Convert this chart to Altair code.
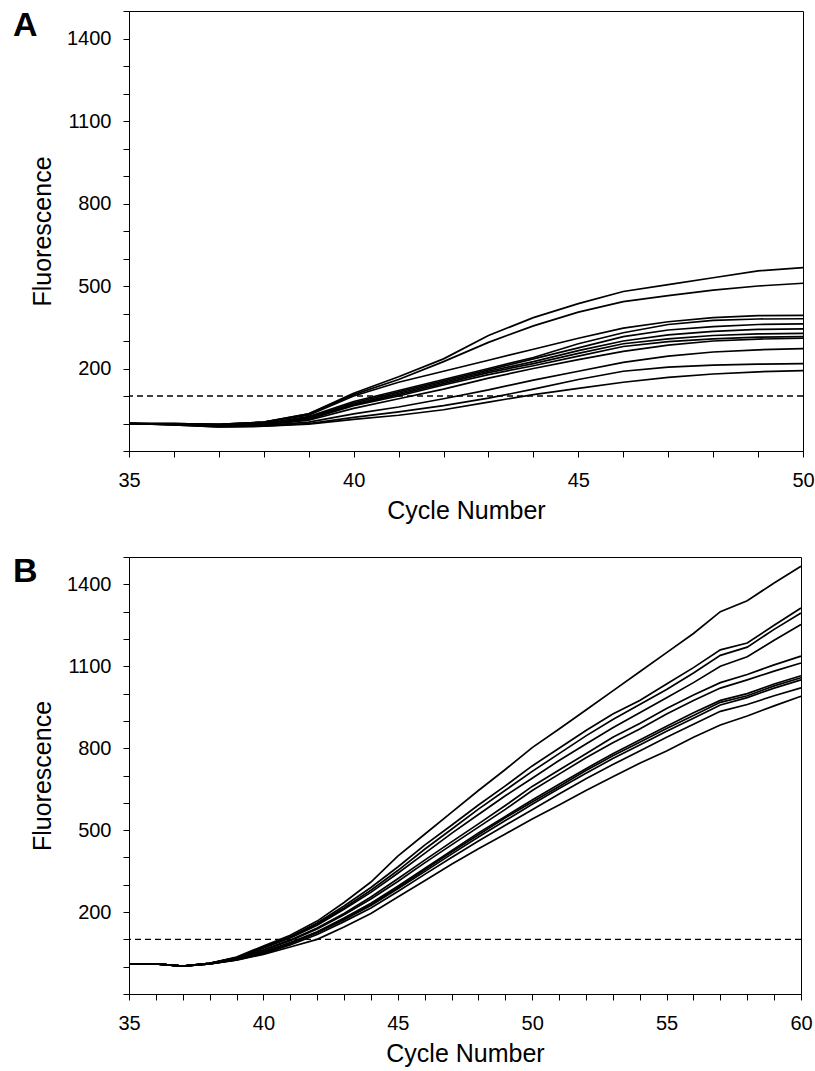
import altair as alt
import pandas as pd

# ---------------- data ----------------
cycles_a = list(range(35, 51))
cycles_b = list(range(35, 61))

a_curves = {
    "A1": [0, 0, -3, 5, 35, 110, 170, 235, 320, 385, 436, 480, 505, 530, 555, 567],
    "A2": [0, 0, -3, 5, 35, 105, 160, 225, 295, 355, 405, 443, 465, 485, 500, 510],
    "A3": [0, 0, -3, 5, 30, 100, 150, 190, 230, 270, 310, 347, 370, 385, 392, 393],
    "A4": [0, -2, -6, 0, 25, 80, 120, 160, 200, 240, 290, 330, 360, 375, 380, 381],
    "A5": [0, -2, -6, 0, 22, 75, 115, 155, 195, 235, 275, 316, 340, 352, 360, 362],
    "A6": [0, -2, -8, -3, 20, 70, 110, 150, 190, 225, 265, 300, 322, 335, 342, 344],
    "A7": [0, -2, -8, -3, 18, 68, 105, 145, 185, 218, 255, 290, 308, 320, 326, 328],
    "A8": [0, -3, -10, -5, 15, 65, 100, 140, 178, 210, 245, 280, 298, 308, 314, 316],
    "A9": [0, -3, -10, -5, 12, 55, 90, 125, 165, 200, 232, 262, 285, 300, 307, 310],
    "A10": [0, -4, -10, -8, 5, 35, 60, 90, 122, 158, 190, 222, 245, 260, 268, 272],
    "A11": [0, -5, -12, -10, 0, 22, 42, 65, 92, 125, 160, 190, 205, 212, 216, 218],
    "A12": [0, -5, -12, -10, -2, 15, 30, 50, 78, 105, 128, 150, 168, 180, 188, 192],
}

b_curves = {
    "B1": [10, 10, 2, 12, 35, 76, 115, 167, 235, 310, 405, 485, 565, 645, 722, 802, 870, 940, 1010, 1080, 1150, 1220, 1300, 1340, 1405, 1466],
    "B2": [10, 10, 2, 12, 33, 72, 110, 160, 222, 290, 365, 445, 518, 592, 662, 735, 800, 865, 925, 975, 1035, 1095, 1160, 1185, 1250, 1313],
    "B3": [10, 10, 2, 12, 32, 70, 108, 156, 215, 280, 352, 430, 503, 577, 646, 715, 780, 845, 905, 960, 1015, 1075, 1140, 1170, 1235, 1295],
    "B4": [10, 10, 2, 12, 32, 68, 105, 152, 210, 272, 342, 415, 488, 557, 626, 690, 755, 815, 875, 930, 985, 1040, 1100, 1135, 1195, 1253],
    "B5": [10, 10, 2, 12, 30, 62, 98, 142, 195, 255, 322, 390, 457, 523, 590, 660, 720, 780, 840, 890, 945, 995, 1040, 1070, 1105, 1137],
    "B6": [10, 10, 2, 12, 30, 60, 95, 138, 190, 248, 312, 380, 446, 511, 576, 645, 705, 765, 820, 870, 925, 975, 1020, 1050, 1082, 1112],
    "B7": [10, 10, 2, 10, 28, 55, 88, 128, 178, 232, 295, 360, 425, 490, 550, 610, 668, 725, 780, 830, 880, 930, 975, 1000, 1035, 1065],
    "B8": [10, 10, 2, 10, 27, 54, 86, 126, 175, 228, 290, 355, 420, 483, 545, 603, 660, 718, 772, 822, 872, 920, 968, 992, 1028, 1058],
    "B9": [10, 10, 2, 10, 26, 52, 84, 124, 172, 224, 285, 348, 412, 475, 535, 595, 652, 708, 762, 812, 862, 910, 958, 985, 1020, 1050],
    "B10": [10, 10, 2, 10, 25, 48, 80, 118, 165, 215, 275, 338, 400, 460, 518, 575, 632, 688, 740, 790, 840, 888, 935, 960, 992, 1021],
    "B11": [10, 10, 2, 10, 24, 45, 72, 100, 145, 195, 255, 315, 375, 432, 486, 541, 592, 645, 695, 745, 790, 840, 885, 918, 955, 990],
}

threshold_a = 100
threshold_b = 100

y_ticks = list(range(-100, 1501, 100))
y_labels = [200, 500, 800, 1100, 1400]
x_labels_a = [35, 40, 45, 50]
x_labels_b = [35, 40, 45, 50, 55, 60]

FONT = "Liberation Sans"


def long_df(cycles, curves):
    rows = []
    for name, vals in curves.items():
        for c, v in zip(cycles, vals):
            rows.append({"curve": name, "cycle": c, "fluor": v})
    return pd.DataFrame(rows)


def panel(cycles, curves, thr, xlabels, letter, width, height):
    df = long_df(cycles, curves)
    xmin, xmax = cycles[0], cycles[-1]
    xscale = alt.Scale(domain=[xmin, xmax], nice=False, zero=False)
    yscale = alt.Scale(domain=[-100, 1500], nice=False, zero=False)
    lab_arr = "[" + ",".join(str(v) for v in xlabels) + "]"
    ylab_arr = "[" + ",".join(str(v) for v in y_labels) + "]"
    xaxis = alt.Axis(
        values=cycles,
        labelExpr=f"indexof({lab_arr}, datum.value) >= 0 ? datum.label : ''",
        format="d",
        title="Cycle Number",
        labelOverlap=False,
        labelFlush=False,
    )
    yaxis = alt.Axis(
        values=y_ticks,
        labelExpr=f"indexof({ylab_arr}, datum.value) >= 0 ? datum.label : ''",
        format="d",
        title="Fluorescence",
        labelOverlap=False,
        labelFlush=True,
    )
    lines = alt.Chart(df).mark_line(color="black", strokeWidth=1.7).encode(
        x=alt.X("cycle:Q", scale=xscale, axis=xaxis),
        y=alt.Y("fluor:Q", scale=yscale, axis=yaxis),
        detail="curve:N",
    )
    rule = alt.Chart(pd.DataFrame({"t": [thr]})).mark_rule(
        color="black", strokeDash=[6, 4], strokeWidth=1.3
    ).encode(y=alt.Y("t:Q", scale=yscale, axis=yaxis))
    text = alt.Chart(pd.DataFrame({"l": [letter]})).mark_text(
        font=FONT, fontSize=34, fontWeight="bold", align="left",
        baseline="alphabetic", color="black"
    ).encode(text="l:N", x=alt.value(-116), y=alt.value(25))
    return alt.layer(lines, rule, text).properties(width=width, height=height)


pa = panel(cycles_a, a_curves, threshold_a, x_labels_a, "A", 674, 440)
pb = panel(cycles_b, b_curves, threshold_b, x_labels_b, "B", 672, 437)

chart = alt.vconcat(pa, pb, spacing=30).properties(
    padding={"left": 12, "top": 8, "right": 0, "bottom": 0},
    background="white",
).configure_axis(
    domainColor="black", tickColor="black", labelColor="black", titleColor="black",
    labelFont=FONT, titleFont=FONT, labelFontSize=20, titleFontSize=25,
    titleFontWeight="normal", tickSize=6, grid=False, domainWidth=1, tickWidth=1,
).configure_axisY(
    labelPadding=12, titlePadding=11,
).configure_axisX(
    labelPadding=13, titlePadding=8,
).configure_view(stroke="black", strokeWidth=1)

chart.save("out.html", embed_options={"renderer": "svg", "actions": False})
